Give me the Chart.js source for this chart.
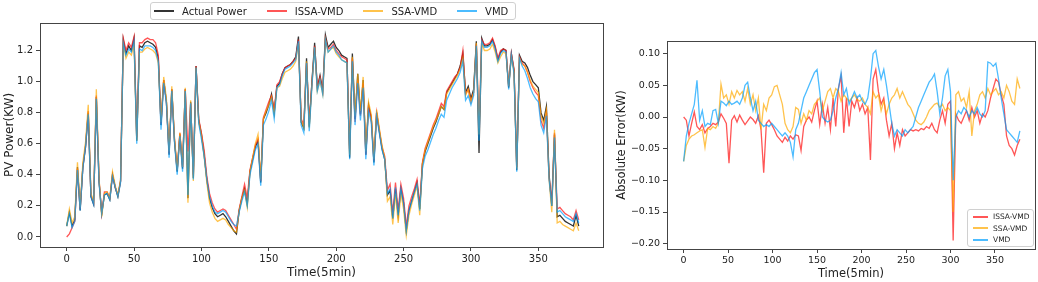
<!DOCTYPE html>
<html>
<head>
<meta charset="utf-8">
<script src="https://cdn.jsdelivr.net/npm/chart.js@4.4.1/dist/chart.umd.min.js"></script>
<style>
    body { margin: 0; background: #fff; overflow: hidden; font-family: 'DejaVu Sans', sans-serif; }
    #wrap { position: relative; width: 1038px; height: 282px; }
    canvas { position: absolute; top: 0; }
    #powerChart { left: 0; }
    #errorChart { left: 610px; }
    .legend { position: absolute; background: rgba(255,255,255,0.85); border: 1px solid #d0d0d0; border-radius: 3px; color: #222; white-space: nowrap; }
    #powerLegend { left: 150px; top: 2px; width: 361px; height: 16px; display: flex; align-items: center; font-size: 10px; padding-left: 3px; box-sizing: content-box; }
    #powerLegend .item { display: flex; align-items: center; margin-right: 20px; flex: none; }
    #powerLegend .sw { width: 20px; height: 2px; margin-right: 8px; flex: none; }
    #errorLegend { left: 967px; top: 209px; width: 65px; height: 36px; font-size: 7.5px; }
    #errorLegend .item { display: flex; align-items: center; height: 11.5px; margin-left: 5px; }
    #errorLegend .item:first-child { margin-top: 1px; }
    #errorLegend .sw { width: 15px; height: 2px; margin-right: 5px; flex: none; }
</style>
</head>
<body>
<div id="wrap">
    <canvas id="powerChart" width="610" height="282"></canvas>
    <canvas id="errorChart" width="428" height="282"></canvas>
    <div id="powerLegend" class="legend"></div>
    <div id="errorLegend" class="legend"></div>
</div>
<script>
// Time steps (5 min each)
const powerSteps = Array.from({ length: 191 }, (_, i) => i * 2);
const errorSteps = Array.from({ length: 127 }, (_, i) => i * 3);

// Left panel: PV power (KW), one value every 2 steps
const actualPower = [
    0.07, 0.16, 0.07, 0.11, 0.45, 0.17, 0.45, 0.58, 0.80, 0.26,
    0.21, 0.90, 0.36, 0.15, 0.27, 0.28, 0.24, 0.40, 0.32, 0.26,
    0.36, 1.27, 1.18, 1.23, 1.20, 1.28, 0.62, 1.23, 1.22, 1.25,
    1.26, 1.25, 1.24, 1.22, 1.15, 0.72, 1.01, 0.87, 0.53, 0.95,
    0.62, 0.42, 0.66, 0.44, 0.95, 0.25, 0.87, 0.38, 1.10, 0.75,
    0.66, 0.53, 0.37, 0.25, 0.19, 0.15, 0.13, 0.14, 0.15, 0.13,
    0.10, 0.07, 0.04, 0.02, 0.17, 0.25, 0.31, 0.21, 0.42, 0.50,
    0.58, 0.62, 0.35, 0.76, 0.80, 0.85, 0.92, 0.80, 0.97, 0.99,
    1.05, 1.09, 1.10, 1.11, 1.13, 1.16, 1.29, 0.74, 0.70, 1.15,
    0.71, 1.00, 1.25, 0.96, 1.04, 0.94, 1.30, 1.22, 1.24, 1.26,
    1.22, 1.20, 1.17, 1.16, 1.15, 0.51, 1.18, 0.76, 1.05, 0.79,
    1.01, 0.53, 0.85, 0.77, 0.48, 0.80, 0.68, 0.57, 0.50, 0.27,
    0.30, 0.12, 0.31, 0.14, 0.31, 0.22, 0.04, 0.17, 0.23, 0.29,
    0.35, 0.18, 0.47, 0.55, 0.60, 0.65, 0.70, 0.74, 0.79, 0.84,
    0.82, 0.93, 0.96, 0.99, 1.02, 1.05, 1.10, 1.18, 0.93, 0.97,
    0.89, 0.95, 1.26, 0.54, 1.28, 1.23, 1.23, 1.24, 1.27, 1.22,
    1.14, 1.19, 1.21, 1.20, 0.96, 1.18, 1.07, 0.43, 1.17, 1.13,
    1.12, 1.09, 1.04, 1.00, 0.98, 0.96, 0.80, 0.75, 0.84, 0.40,
    0.20, 0.66, 0.13, 0.14, 0.12, 0.10, 0.09, 0.08, 0.07, 0.14,
    0.07
];
const issaPower = [
    0.00, 0.02, 0.06, 0.10, 0.44, 0.18, 0.45, 0.59, 0.81, 0.27,
    0.22, 0.91, 0.37, 0.15, 0.29, 0.29, 0.25, 0.40, 0.32, 0.27,
    0.36, 1.28, 1.20, 1.25, 1.22, 1.29, 0.64, 1.25, 1.25, 1.27,
    1.28, 1.27, 1.27, 1.25, 1.17, 0.73, 1.01, 0.87, 0.54, 0.95,
    0.63, 0.43, 0.67, 0.45, 0.95, 0.55, 0.86, 0.40, 1.10, 0.76,
    0.67, 0.56, 0.39, 0.28, 0.22, 0.18, 0.16, 0.17, 0.18, 0.17,
    0.14, 0.11, 0.08, 0.05, 0.18, 0.26, 0.34, 0.25, 0.43, 0.51,
    0.59, 0.63, 0.36, 0.77, 0.82, 0.87, 0.91, 0.82, 0.98, 1.00,
    1.05, 1.09, 1.10, 1.11, 1.13, 1.15, 1.27, 0.76, 0.72, 1.12,
    0.74, 0.99, 1.23, 0.97, 1.03, 0.94, 1.28, 1.21, 1.22, 1.24,
    1.20, 1.18, 1.16, 1.15, 1.14, 0.56, 1.15, 0.74, 1.01, 0.78,
    0.99, 0.53, 0.84, 0.77, 0.49, 0.80, 0.69, 0.58, 0.52, 0.30,
    0.34, 0.15, 0.35, 0.17, 0.34, 0.25, 0.07, 0.20, 0.26, 0.31,
    0.37, 0.20, 0.48, 0.57, 0.62, 0.67, 0.72, 0.76, 0.81, 0.86,
    0.84, 0.94, 0.97, 1.00, 1.03, 1.05, 1.09, 1.20, 0.92, 0.95,
    0.87, 0.93, 1.24, 0.70, 1.27, 1.24, 1.24, 1.25, 1.28, 1.23,
    1.15, 1.20, 1.21, 1.20, 0.97, 1.18, 1.08, 0.45, 1.16, 1.12,
    1.10, 1.06, 1.00, 0.96, 0.93, 0.91, 0.75, 0.70, 0.80, 0.38,
    0.22, 0.67, 0.18, 0.19, 0.17, 0.15, 0.14, 0.13, 0.11, 0.17,
    0.11
];
const ssaPower = [
    0.07, 0.18, 0.09, 0.13, 0.48, 0.19, 0.48, 0.61, 0.85, 0.28,
    0.23, 0.95, 0.38, 0.13, 0.28, 0.29, 0.25, 0.42, 0.33, 0.27,
    0.37, 1.24, 1.15, 1.19, 1.17, 1.24, 0.62, 1.19, 1.19, 1.21,
    1.22, 1.21, 1.20, 1.18, 1.12, 0.74, 1.03, 0.89, 0.55, 0.97,
    0.64, 0.43, 0.67, 0.45, 0.96, 0.22, 0.88, 0.36, 1.09, 0.74,
    0.65, 0.52, 0.35, 0.22, 0.16, 0.12, 0.10, 0.11, 0.12, 0.11,
    0.08, 0.06, 0.04, 0.03, 0.17, 0.25, 0.30, 0.19, 0.42, 0.51,
    0.60, 0.66, 0.37, 0.76, 0.81, 0.85, 0.90, 0.79, 0.96, 0.97,
    1.02, 1.06, 1.07, 1.08, 1.10, 1.13, 1.25, 0.75, 0.70, 1.13,
    0.70, 0.98, 1.22, 0.94, 1.01, 0.92, 1.27, 1.19, 1.21, 1.22,
    1.18, 1.16, 1.14, 1.13, 1.12, 0.53, 1.16, 0.78, 1.05, 0.81,
    1.03, 0.55, 0.87, 0.79, 0.50, 0.82, 0.70, 0.59, 0.51, 0.23,
    0.26, 0.08, 0.28, 0.09, 0.28, 0.18, 0.01, 0.14, 0.21, 0.27,
    0.33, 0.14, 0.47, 0.56, 0.61, 0.66, 0.71, 0.75, 0.79, 0.84,
    0.82, 0.92, 0.95, 0.98, 1.01, 1.04, 1.08, 1.15, 0.91, 0.95,
    0.87, 0.93, 1.25, 0.66, 1.25, 1.20, 1.20, 1.21, 1.24, 1.19,
    1.12, 1.16, 1.19, 1.18, 0.97, 1.16, 1.06, 0.44, 1.15, 1.11,
    1.10, 1.06, 1.01, 0.97, 0.95, 0.93, 0.78, 0.73, 0.82, 0.37,
    0.16, 0.69, 0.09, 0.10, 0.08, 0.07, 0.06, 0.05, 0.04, 0.09,
    0.04
];
const vmdPower = [
    0.07, 0.15, 0.06, 0.10, 0.43, 0.17, 0.44, 0.58, 0.79, 0.26,
    0.21, 0.89, 0.35, 0.15, 0.27, 0.28, 0.24, 0.39, 0.32, 0.26,
    0.35, 1.25, 1.17, 1.21, 1.19, 1.26, 0.60, 1.21, 1.20, 1.23,
    1.23, 1.23, 1.22, 1.20, 1.13, 0.69, 0.99, 0.86, 0.51, 0.94,
    0.61, 0.40, 0.65, 0.42, 0.94, 0.27, 0.86, 0.37, 1.09, 0.73,
    0.63, 0.52, 0.37, 0.26, 0.20, 0.16, 0.15, 0.16, 0.17, 0.16,
    0.13, 0.10, 0.08, 0.07, 0.16, 0.23, 0.29, 0.20, 0.40, 0.48,
    0.56, 0.60, 0.33, 0.72, 0.76, 0.81, 0.88, 0.76, 0.96, 0.98,
    1.04, 1.08, 1.09, 1.10, 1.12, 1.14, 1.26, 0.72, 0.67, 1.12,
    0.68, 0.97, 1.22, 0.94, 1.01, 0.92, 1.27, 1.19, 1.21, 1.23,
    1.19, 1.17, 1.14, 1.13, 1.12, 0.50, 1.13, 0.72, 0.99, 0.75,
    0.96, 0.50, 0.81, 0.74, 0.46, 0.78, 0.67, 0.56, 0.50, 0.28,
    0.31, 0.12, 0.32, 0.14, 0.31, 0.22, 0.04, 0.17, 0.23, 0.29,
    0.34, 0.17, 0.44, 0.52, 0.56, 0.61, 0.66, 0.70, 0.75, 0.79,
    0.77, 0.88, 0.92, 0.96, 0.99, 1.02, 1.06, 1.13, 0.88, 0.91,
    0.85, 0.91, 1.23, 0.62, 1.26, 1.22, 1.22, 1.23, 1.26, 1.21,
    1.13, 1.18, 1.20, 1.19, 0.95, 1.17, 1.05, 0.42, 1.15, 1.10,
    1.07, 1.02, 0.96, 0.92, 0.89, 0.87, 0.72, 0.67, 0.78, 0.37,
    0.20, 0.64, 0.16, 0.17, 0.15, 0.13, 0.12, 0.11, 0.10, 0.15,
    0.09
];

// Right panel: absolute error (KW), one value every 3 steps
const issaError = [
    0.000, -0.005, -0.030, -0.010, 0.008, -0.015, -0.020, -0.012, -0.025, -0.018,
    -0.015, -0.010, -0.012, -0.008, 0.005, -0.002, -0.010, -0.073, -0.005, 0.002,
    -0.008, 0.003, -0.005, -0.012, -0.006, 0.000, -0.004, -0.010, 0.002, -0.020,
    -0.088, -0.010, -0.005, -0.012, -0.020, -0.030, -0.035, -0.040, -0.032, -0.038,
    -0.030, -0.035, -0.028, -0.030, -0.053, -0.015, -0.005, 0.000, -0.008, 0.010,
    0.025, -0.012, 0.020, -0.010, 0.015, -0.020, 0.030, -0.015, 0.045, 0.065,
    -0.025, 0.030, -0.015, 0.025, 0.015, 0.030, 0.010, 0.020, 0.005, 0.015,
    -0.068, 0.060, 0.075, 0.040, 0.020, 0.030, -0.005, -0.030, -0.010, -0.050,
    -0.025, -0.045, -0.020, -0.030, -0.025, -0.020, -0.022, -0.020, -0.022, -0.018,
    -0.020, -0.015, -0.018, -0.010, -0.020, -0.025, -0.005, 0.010, -0.010, 0.020,
    0.025, -0.195, 0.005, -0.005, -0.010, 0.000, 0.010, -0.005, 0.015, 0.000,
    0.010, -0.010, 0.005, 0.000, 0.010, 0.030, 0.045, 0.060, 0.055, 0.035,
    0.020, -0.030, -0.045, -0.050, -0.060, -0.045, -0.035
];
const ssaError = [
    -0.070, -0.045, -0.035, -0.030, -0.028, -0.025, -0.022, -0.020, -0.048, -0.018,
    -0.020, -0.015, -0.018, -0.010, 0.052, 0.030, 0.035, 0.020, 0.040, 0.030,
    0.042, 0.035, 0.040, 0.025, 0.045, 0.020, 0.035, 0.010, 0.030, -0.020,
    0.020, 0.010, 0.030, 0.035, 0.048, 0.050, 0.035, 0.020, -0.010, -0.020,
    -0.025, -0.015, 0.015, 0.012, -0.010, 0.005, -0.005, 0.010, 0.005, 0.020,
    0.025, 0.030, 0.010, 0.025, 0.040, 0.045, 0.030, 0.045, 0.040, 0.025,
    0.035, 0.030, 0.025, 0.030, 0.035, 0.028, 0.025, 0.030, 0.020, 0.015,
    0.005, 0.040, 0.030, 0.035, 0.010, 0.025, 0.005, 0.020, 0.030, 0.035,
    0.045, 0.030, 0.040, 0.030, 0.020, 0.015, 0.005, -0.005, -0.010, -0.012,
    -0.008, 0.000, 0.010, 0.015, 0.020, 0.022, 0.015, 0.020, 0.010, 0.015,
    0.010, -0.150, 0.035, 0.040, 0.025, 0.030, 0.015, 0.040, -0.030, 0.010,
    0.020, 0.035, 0.040, 0.030, 0.045, 0.035, 0.040, 0.045, 0.035, 0.040,
    0.030, 0.050, 0.040, 0.025, 0.020, 0.060, 0.045
];
const vmdError = [
    -0.070, -0.030, -0.010, 0.005, 0.020, 0.058, -0.005, 0.010, -0.015, -0.010,
    -0.012, 0.010, 0.012, -0.010, 0.025, 0.022, 0.018, 0.025, 0.020, 0.022,
    0.025, 0.020, 0.030, 0.050, 0.055, 0.030, 0.010, 0.025, -0.005, -0.010,
    -0.015, -0.012, -0.015, -0.010, -0.015, -0.020, -0.025, -0.030, -0.025, -0.030,
    -0.040, -0.063, -0.020, -0.010, 0.010, 0.030, 0.040, 0.050, 0.060, 0.070,
    0.075, 0.040, 0.000, -0.005, -0.008, -0.005, 0.010, 0.030, 0.045, 0.070,
    0.035, 0.045, 0.020, 0.030, 0.040, 0.030, 0.035, 0.025, 0.020, 0.030,
    0.060, 0.100, 0.105, 0.080, 0.060, 0.075, 0.050, 0.020, -0.010, -0.030,
    -0.020, -0.025, -0.030, -0.020, -0.025, -0.020, -0.015, 0.000, 0.015, 0.025,
    0.035, 0.045, 0.055, 0.060, 0.068, 0.040, 0.005, 0.030, 0.065, 0.075,
    0.040, -0.100, 0.000, 0.010, 0.005, 0.015, 0.010, 0.000, 0.010, 0.005,
    0.015, 0.005, 0.000, 0.010, 0.087, 0.085, 0.080, 0.085, 0.060, 0.030,
    0.005, -0.020, -0.025, -0.030, -0.035, -0.040, -0.022
];

// Tick labels
const timeTicks = [0, 50, 100, 150, 200, 250, 300, 350];
const powerTicks = [0.0, 0.2, 0.4, 0.6, 0.8, 1.0, 1.2];
const errorTicks = [-0.20, -0.15, -0.10, -0.05, 0.00, 0.05, 0.10];

const seriesNames = ['Actual Power', 'ISSA-VMD', 'SSA-VMD', 'VMD'];
const seriesColors = ['#333333', 'rgba(255, 30, 30, 0.75)', 'rgba(255, 170, 0, 0.7)', 'rgba(0, 160, 255, 0.7)'];

const FONT = "'DejaVu Sans', sans-serif";
const INK = '#222';

function toPoints(steps, values) {
    return values.map((v, i) => ({ x: steps[i], y: v }));
}

// Draw the full box around the plot area (matplotlib style)
const framePlugin = {
    id: 'frame',
    afterDatasetsDraw(chart) {
        const { ctx, chartArea: a } = chart;
        ctx.save();
        ctx.strokeStyle = '#444';
        ctx.lineWidth = 1;
        ctx.strokeRect(Math.round(a.left) + 0.5, Math.round(a.top) + 0.5,
            Math.round(a.right - a.left), Math.round(a.bottom - a.top));
        ctx.restore();
    }
};

function lineSet(label, steps, values, color, order) {
    return {
        label: label,
        data: toPoints(steps, values),
        borderColor: color,
        borderWidth: 1.3,
        pointRadius: 0,
        tension: 0,
        fill: false,
        order: order
    };
}

function axisCommon(ticksList, fmt, fontSize) {
    return {
        type: 'linear',
        border: { display: false },
        grid: { display: true, drawOnChartArea: false, drawTicks: true, tickLength: 4, color: '#444' },
        afterBuildTicks: function(scale) {
            scale.ticks = ticksList.map(v => ({ value: v }));
        },
        ticks: {
            autoSkip: false,
            maxRotation: 0,
            padding: 2,
            color: INK,
            font: { family: FONT, size: fontSize },
            callback: fmt
        }
    };
}

function buildLegend(el, names, colors) {
    names.forEach((name, i) => {
        const item = document.createElement('div');
        item.className = 'item';
        const sw = document.createElement('span');
        sw.className = 'sw';
        sw.style.background = colors[i];
        const txt = document.createElement('span');
        txt.textContent = name;
        item.appendChild(sw);
        item.appendChild(txt);
        el.appendChild(item);
    });
}

document.addEventListener('DOMContentLoaded', function() {
    buildLegend(document.getElementById('powerLegend'), seriesNames, seriesColors);
    buildLegend(document.getElementById('errorLegend'), seriesNames.slice(1), seriesColors.slice(1));

    // PV power chart
    const powerX = axisCommon(timeTicks, v => String(v), 10);
    powerX.min = -19.8;
    powerX.max = 398;
    powerX.title = { display: true, text: 'Time(5min)', color: INK, font: { family: FONT, size: 12 }, padding: { top: 0, bottom: 2 } };
    powerX.afterFit = s => { s.height = 35; };

    const powerY = axisCommon(powerTicks, v => v.toFixed(1), 10);
    powerY.min = -0.0645;
    powerY.max = 1.377;
    powerY.ticks.padding = 3;
    powerY.title = { display: true, text: 'PV Power(KW)', color: INK, font: { family: FONT, size: 12 }, padding: { top: 3, bottom: 0 } };
    powerY.afterFit = s => { s.width = 40; };

    new Chart(document.getElementById('powerChart').getContext('2d'), {
        type: 'line',
        data: {
            datasets: [
                lineSet(seriesNames[0], powerSteps, actualPower, seriesColors[0], 4),
                lineSet(seriesNames[1], powerSteps, issaPower, seriesColors[1], 3),
                lineSet(seriesNames[2], powerSteps, ssaPower, seriesColors[2], 2),
                lineSet(seriesNames[3], powerSteps, vmdPower, seriesColors[3], 1)
            ]
        },
        options: {
            responsive: false,
            animation: false,
            devicePixelRatio: 1,
            layout: { padding: { top: 23, right: 7, bottom: 0, left: 0 } },
            plugins: { legend: { display: false }, tooltip: { enabled: false } },
            scales: { x: powerX, y: powerY }
        },
        plugins: [framePlugin]
    });

    // Absolute error chart
    const errX = axisCommon(timeTicks, v => String(v), 9.5);
    errX.min = -18.7;
    errX.max = 395;
    errX.title = { display: true, text: 'Time(5min)', color: INK, font: { family: FONT, size: 11.5 }, padding: { top: 0, bottom: 1 } };
    errX.afterFit = s => { s.height = 33; };

    const errY = axisCommon(errorTicks, v => v.toFixed(2).replace('-', '\u2212'), 9.5);
    errY.min = -0.2084;
    errY.max = 0.12;
    errY.ticks.padding = 3;
    errY.title = { display: true, text: 'Absolute Error(KW)', color: INK, font: { family: FONT, size: 11.5 }, padding: { top: 5, bottom: 0 } };
    errY.afterFit = s => { s.width = 57; };

    new Chart(document.getElementById('errorChart').getContext('2d'), {
        type: 'line',
        data: {
            datasets: [
                lineSet(seriesNames[1], errorSteps, issaError, seriesColors[1], 3),
                lineSet(seriesNames[2], errorSteps, ssaError, seriesColors[2], 2),
                lineSet(seriesNames[3], errorSteps, vmdError, seriesColors[3], 1)
            ]
        },
        options: {
            responsive: false,
            animation: false,
            devicePixelRatio: 1,
            layout: { padding: { top: 41, right: 3, bottom: 0, left: 0 } },
            plugins: { legend: { display: false }, tooltip: { enabled: false } },
            scales: { x: errX, y: errY }
        },
        plugins: [framePlugin]
    });
});
</script>
</body>
</html>
